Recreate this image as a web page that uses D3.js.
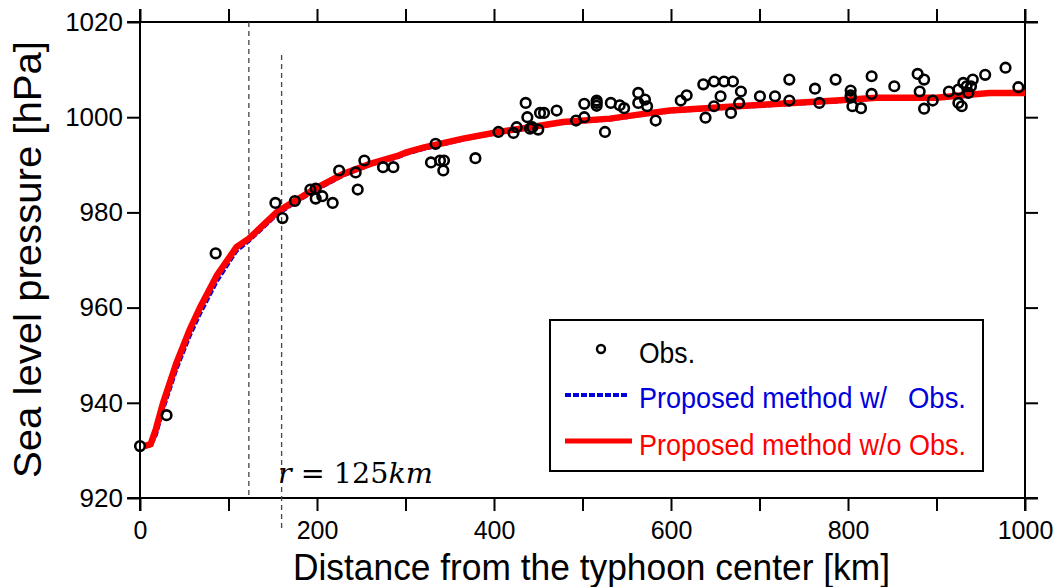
<!DOCTYPE html>
<html>
<head>
<meta charset="utf-8">
<script src="https://cdn.jsdelivr.net/npm/d3@7"></script>
<style>
  body { margin: 0; background: #fff; }
  svg { display: block; font-family: "Liberation Sans", Arial, sans-serif; }
</style>
</head>
<body>
<svg id="chart" width="1058" height="587"></svg>
<script>
// observed pressure vs distance
var obsDist = [0, 30, 85.5, 153, 161, 175, 192.5, 198.5, 198.5, 206, 217.7, 225, 243.7, 246, 253.5, 274.6, 286.3,
  328.8, 334, 339, 343.5, 342.7, 379, 405, 422, 425.6, 435.8, 437.7, 440.7, 443.3, 450, 452, 456.5, 470.8, 492.7,
  502, 502, 516, 516, 516, 525.4, 532, 542, 547, 563, 563, 570.6, 573, 582.7, 611, 617.7, 636.5, 639, 648.6, 648.6,
  656, 660, 667.8, 670, 677, 679, 700.5, 717.5, 733.7, 733.7, 762.7, 767.6, 786, 803, 803, 803, 805, 814.7, 826.7,
  826.7, 852.3, 878.7, 886, 881, 886, 895.7, 914, 924.7, 924.7, 928.5, 930.3, 934, 936, 939, 941, 955, 978, 992.5];
var obsPres = [930.9, 937.4, 971.4, 982.0, 978.8, 982.4, 984.8, 985.0, 982.9, 983.4, 982.0, 988.8, 988.4, 984.8, 990.9, 989.5, 989.5,
  990.5, 994.4, 990.9, 990.9, 988.8, 991.4, 996.9, 996.7, 997.9, 1003.0, 1000.0, 997.6, 997.9, 997.4, 1000.9, 1000.9, 1001.4, 999.3,
  1000.0, 1002.8, 1003.5, 1003.0, 1002.4, 996.9, 1003.0, 1002.5, 1001.9, 1005.1, 1003.0, 1003.7, 1002.3, 999.3, 1003.5, 1004.6, 1006.9, 999.9, 1002.3, 1007.5,
  1004.4, 1007.5, 1000.9, 1007.5, 1003.0, 1005.4, 1004.4, 1004.4, 1007.9, 1003.5, 1006.0, 1003.0, 1007.9, 1005.6, 1004.6, 1004.1, 1002.3, 1001.9, 1008.6,
  1004.9, 1006.5, 1009.1, 1007.9, 1005.4, 1001.8, 1003.5, 1005.4, 1005.8, 1003.0, 1002.3, 1007.2, 1006.5, 1005.1, 1006.5, 1007.9, 1008.9, 1010.4, 1006.3];

// model profiles
var curveDist = [5, 12, 18, 26, 41, 56, 68, 87, 109, 123, 155, 175, 198, 230, 260, 290, 301, 320, 365, 405, 441, 478,
  531, 569, 599, 693, 787, 832, 900, 930, 960, 1000];
var withObs = [930.9, 931.0, 933.3, 938.6, 947.0, 954.0, 958.8, 965.6, 971.9, 974.0, 979.6, 982.0, 984.6, 987.8, 990.0, 991.5,
  992.3, 993.3, 995.3, 996.7, 997.7, 998.8, 999.5, 1000.5, 1001.2, 1002.3, 1003.3, 1003.9, 1004.0, 1004.5, 1005.0, 1005.0];
var withoutObs = [930.9, 931.3, 934.5, 939.9, 948.3, 955.3, 960.1, 966.8, 972.7, 974.5, 980.1, 982.4, 985.0, 988.1, 990.2, 991.8,
  992.6, 993.6, 995.5, 996.9, 997.9, 999.0, 999.7, 1000.7, 1001.4, 1002.5, 1003.5, 1004.1, 1004.1, 1004.6, 1005.1, 1005.1];

var refLines = [123, 160];
var xTicks = d3.range(0, 1001, 100);
var yTicks = d3.range(920, 1021, 20);

var svg = d3.select("#chart");
var x = d3.scaleLinear().domain([0, 1000]).range([140, 1025]);
var y = d3.scaleLinear().domain([920, 1020]).range([498, 22]);
var tk = 13;

// frame, each side sticks out past the corners
var frame = svg.append("g").attr("stroke", "#000").attr("stroke-width", 2);
frame.append("line").attr("x1", x(0) - tk).attr("x2", x(1000) + tk).attr("y1", y(920)).attr("y2", y(920));
frame.append("line").attr("x1", x(0) - tk).attr("x2", x(1000) + tk).attr("y1", y(1020)).attr("y2", y(1020));
frame.append("line").attr("x1", x(0)).attr("x2", x(0)).attr("y1", y(1020) - tk).attr("y2", y(920) + tk);
frame.append("line").attr("x1", x(1000)).attr("x2", x(1000)).attr("y1", y(1020) - tk).attr("y2", y(920) + tk);

var gBottom = svg.append("g").attr("transform", "translate(0," + y(920) + ")")
  .call(d3.axisBottom(x).tickValues(xTicks).tickSize(tk).tickSizeOuter(0).tickPadding(10)
    .tickFormat(function(d) { return d % 200 === 0 ? d : ""; }));
var gTop = svg.append("g").attr("transform", "translate(0," + y(1020) + ")")
  .call(d3.axisTop(x).tickValues(xTicks).tickSize(tk).tickSizeOuter(0).tickFormat(""));
var gLeft = svg.append("g").attr("transform", "translate(" + x(0) + ",0)")
  .call(d3.axisLeft(y).tickValues(yTicks).tickSize(tk).tickSizeOuter(0).tickPadding(4).tickFormat(d3.format("d")));
var gRight = svg.append("g").attr("transform", "translate(" + x(1000) + ",0)")
  .call(d3.axisRight(y).tickValues(yTicks).tickSize(tk).tickSizeOuter(0).tickFormat(""));

[gBottom, gTop, gLeft, gRight].forEach(function(g) {
  g.select(".domain").remove();
  g.selectAll(".tick line").attr("stroke", "#000").attr("stroke-width", 2);
  g.selectAll(".tick text").attr("font-family", "Liberation Sans, Arial, sans-serif")
    .attr("font-size", 26).attr("fill", "#000");
});
gBottom.selectAll(".tick text").attr("font-size", 25);

// reference lines
svg.append("line").attr("x1", x(refLines[0])).attr("x2", x(refLines[0]))
  .attr("y1", y(1020)).attr("y2", y(920))
  .attr("stroke", "#444").attr("stroke-width", 1.3).attr("stroke-dasharray", "5,4");
svg.append("line").attr("x1", x(refLines[1])).attr("x2", x(refLines[1]))
  .attr("y1", 55).attr("y2", 530)
  .attr("stroke", "#444").attr("stroke-width", 1.3).attr("stroke-dasharray", "5,4");

var rLabel = svg.append("text").attr("x", 278).attr("y", 483)
  .attr("font-family", "DejaVu Serif, Liberation Serif, serif").attr("font-size", 27)
  .attr("textLength", 155).attr("lengthAdjust", "spacingAndGlyphs");
rLabel.append("tspan").attr("font-style", "italic").text("r");
rLabel.append("tspan").text(" = 125");
rLabel.append("tspan").attr("font-style", "italic").text("km");

// curves
var line = d3.line().x(function(d) { return x(d[0]); }).y(function(d) { return y(d[1]); });
svg.append("path").datum(d3.zip(curveDist, withObs)).attr("d", line)
  .attr("fill", "none").attr("stroke", "#0000dd").attr("stroke-width", 4)
  .attr("stroke-dasharray", "6,2");
svg.append("path").datum(d3.zip(curveDist, withoutObs)).attr("d", line)
  .attr("fill", "none").attr("stroke", "#ff0000").attr("stroke-width", 6.5);

svg.append("g").selectAll("circle").data(d3.zip(obsDist, obsPres)).enter().append("circle")
  .attr("cx", function(d) { return x(d[0]); })
  .attr("cy", function(d) { return y(d[1]); })
  .attr("r", 4.8).attr("fill", "none").attr("stroke", "#000").attr("stroke-width", 2.6);

// axis titles
svg.append("text").attr("x", 293).attr("y", 580)
  .attr("font-size", 37).attr("textLength", 597).attr("lengthAdjust", "spacingAndGlyphs")
  .text("Distance from the typhoon center [km]");
svg.append("text").attr("transform", "translate(41,478) rotate(-90)")
  .attr("font-size", 38).attr("textLength", 437).attr("lengthAdjust", "spacingAndGlyphs")
  .text("Sea level pressure [hPa]");

// legend
var lg = svg.append("g");
lg.append("rect").attr("x", 550).attr("y", 320).attr("width", 433).attr("height", 151)
  .attr("fill", "#fff").attr("stroke", "#000").attr("stroke-width", 2);
lg.append("circle").attr("cx", 601).attr("cy", 349).attr("r", 4).attr("fill", "none")
  .attr("stroke", "#000").attr("stroke-width", 2.4);
lg.append("text").attr("x", 639).attr("y", 363).attr("font-size", 30)
  .attr("textLength", 56).attr("lengthAdjust", "spacingAndGlyphs").text("Obs.");
lg.append("line").attr("x1", 565).attr("x2", 628).attr("y1", 395).attr("y2", 395)
  .attr("stroke", "#0000dd").attr("stroke-width", 4).attr("stroke-dasharray", "6,2");
lg.append("text").attr("x", 639).attr("y", 408).attr("font-size", 30).attr("fill", "#0000dd")
  .attr("textLength", 248).attr("lengthAdjust", "spacingAndGlyphs").text("Proposed method w/");
lg.append("text").attr("x", 908).attr("y", 408).attr("font-size", 30).attr("fill", "#0000dd")
  .attr("textLength", 58).attr("lengthAdjust", "spacingAndGlyphs").text("Obs.");
lg.append("line").attr("x1", 565).attr("x2", 632).attr("y1", 441).attr("y2", 441)
  .attr("stroke", "#ff0000").attr("stroke-width", 5);
lg.append("text").attr("x", 639).attr("y", 455).attr("font-size", 30).attr("fill", "#ff0000")
  .attr("textLength", 327).attr("lengthAdjust", "spacingAndGlyphs").text("Proposed method w/o Obs.");
</script>
</body>
</html>
